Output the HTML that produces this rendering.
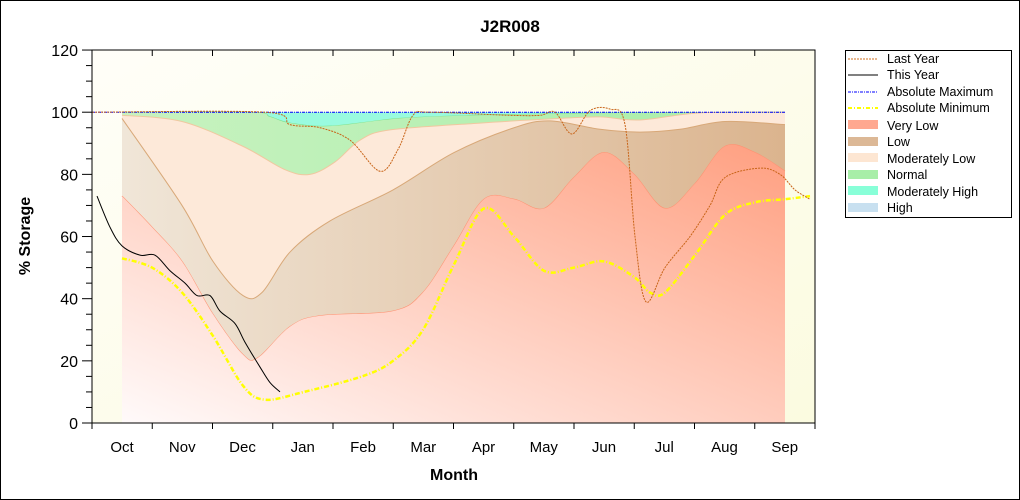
<!DOCTYPE html>
<html><head><meta charset="utf-8"><style>
html,body{margin:0;padding:0;background:#fff}
svg{display:block;font-family:"Liberation Sans",sans-serif}
</style></head><body>
<svg id="s" width="1020" height="500" xmlns="http://www.w3.org/2000/svg">
<defs>
<linearGradient id="vl" x1="0" y1="1" x2="1" y2="0"><stop offset="0" stop-color="#fffafa"/><stop offset="1" stop-color="#ff9f80"/></linearGradient>
<linearGradient id="bg" x1="0" y1="0" x2="1" y2="1"><stop offset="0" stop-color="#fffef8"/><stop offset="1" stop-color="#fbfbe0"/></linearGradient>
<linearGradient id="lo" x1="0" y1="0" x2="1" y2="0"><stop offset="0" stop-color="#f0e6d8"/><stop offset="1" stop-color="#dbb48e"/></linearGradient>
<linearGradient id="nm" x1="0" y1="0" x2="1" y2="0"><stop offset="0" stop-color="#c8f2c0"/><stop offset="1" stop-color="#a8eea8"/></linearGradient>
</defs>
<rect x="0.5" y="0.5" width="1019" height="499" fill="#fff" stroke="#000"/>
<text x="510" y="32" text-anchor="middle" font-size="17" font-weight="bold">J2R008</text>
<rect x="92" y="50" width="723" height="373" fill="url(#bg)"/>
<g id="bands"></g>
<g id="lines"></g>
<g id="axes" stroke="#000" fill="none"></g>
<g id="lab" font-size="15"></g>
<text x="454" y="480" text-anchor="middle" font-size="16" font-weight="bold">Month</text>
<text transform="translate(30,236) rotate(-90)" text-anchor="middle" font-size="16" font-weight="bold">% Storage</text>
<rect x="845.5" y="50.5" width="166" height="167" fill="#fff" stroke="#000"/>
<g font-size="12.5" fill="#000">
<line x1="848" y1="59" x2="878" y2="59" stroke="#d07020" stroke-dasharray="2,1"/><text x="887" y="63">Last Year</text>
<line x1="848" y1="75" x2="878" y2="75" stroke="#000"/><text x="887" y="79">This Year</text>
<line x1="848" y1="92" x2="878" y2="92" stroke="#0000ff" stroke-dasharray="3,1,1,1"/><text x="887" y="96">Absolute Maximum</text>
<line x1="848" y1="108" x2="878" y2="108" stroke="#ffff00" stroke-width="2" stroke-dasharray="4,2,1,2"/><text x="887" y="112">Absolute Minimum</text>
<rect x="848" y="120" width="30" height="9" fill="#ffa890"/><text x="887" y="130">Very Low</text>
<rect x="848" y="137" width="30" height="9" fill="#dcb896"/><text x="887" y="146">Low</text>
<rect x="848" y="153" width="30" height="9" fill="#fde6d2"/><text x="887" y="163">Moderately Low</text>
<rect x="848" y="170" width="30" height="9" fill="#a8eea8"/><text x="887" y="179">Normal</text>
<rect x="848" y="186" width="30" height="9" fill="#88ffd8"/><text x="887" y="196">Moderately High</text>
<rect x="848" y="203" width="30" height="9" fill="#c8e0f0"/><text x="887" y="212">High</text>
</g>
</svg>
<script>
(function(){
var Y=function(v){return 423-v*3.108};
function path(pts){var p=pts.map(function(a){return [a[0],Y(a[1])]});var d="M"+p[0][0]+","+p[0][1];
for(var i=0;i<p.length-1;i++){var p0=p[i-1]||p[i],p1=p[i],p2=p[i+1],p3=p[i+2]||p2;
d+=" C"+(p1[0]+(p2[0]-p0[0])/6)+","+(p1[1]+(p2[1]-p0[1])/6)+" "+(p2[0]-(p3[0]-p1[0])/6)+","+(p2[1]-(p3[1]-p1[1])/6)+" "+p2[0]+","+p2[1];}return d;}
function rev(a){return a.slice().reverse();}
function band(t,b,fill,stroke){var d=path(t)+" L"+path(rev(b)).slice(1)+" Z";
return '<path d="'+d+'" fill="'+fill+'"/>'+(stroke?'<path d="'+path(b)+'" fill="none" stroke="'+stroke+'" stroke-width="1"/>':'');}
var tp=[[122,100],[785,100]];
var mh=[[122,100],[250,100],[270,98.5],[290,96.5],[330,95.5],[400,98],[480,99],[560,99.5],[640,99.8],[785,100]];
var nm=[[122,99],[182,97],[243,89],[285,81.5],[310,80],[335,84],[360,91],[390,94.3],[480,96.5],[560,98],[600,98.5],[640,97.5],[700,99.8],[785,100]];
var ml=[[122,98],[182,70],[213,52],[243,41],[262,42],[290,55],[330,65],[393,75],[454,87],[514,95],[550,97.2],[600,94.5],[640,93.6],[680,94.5],[725,97],[785,96]];
var lo=[[122,73],[152,63],[182,52],[213,35],[243,22],[258,21],[290,31],[320,34.5],[393,36],[423,42],[454,57],[484,72],[514,72],[544,69],[574,79],[604,87],[634,80],[665,69],[695,77],[725,89],[755,87],[785,81]];
var bt=[[122,0],[785,0]];
document.getElementById('bands').innerHTML=
'<rect x="122" y="'+Y(100)+'" width="663" height="'+(Y(0)-Y(100))+'" fill="#fde9d9"/>'+
band(tp,mh,"#99fbdf","#7ee08a")+band(mh,nm,"url(#nm)","#f0c8a0")+band(ml,lo,"url(#lo)","#ff9070")+
band(lo,bt,"url(#vl)",null)+'<path d="'+path(ml)+'" fill="none" stroke="#d8a878"/>';
var amin=[[122,53],[152,50],[182,42],[213,28],[243,12],[265,7.5],[304,10],[362,15],[393,20],[423,30],[454,51],[484,69],[514,60],[544,49],[574,50],[604,52],[634,47],[650,42],[665,42],[695,54],[725,67],[755,71],[785,72],[810,73]];
var ly=[[92,100],[265,100],[290,96],[320,95],[350,91],[380,81],[398,88],[413,99],[430,100],[510,99],[540,99],[555,100],[572,93],[590,100.5],[610,101],[625,96],[635,60],[646,39],[665,50],[690,60],[710,70],[725,79],[760,82],[780,80],[795,75],[810,72]];
var ty=[[97,73],[110,63],[122,57],[140,54],[155,54],[170,49],[185,45],[197,41],[210,41],[220,36],[235,32],[245,26],[260,18],[270,13],[280,10]];
document.getElementById('lines').innerHTML=
'<line x1="92" x2="785" y1="'+Y(100)+'" y2="'+Y(100)+'" stroke="#0000ff" stroke-dasharray="3,1,1,1"/>'+
'<path d="'+path(amin)+'" fill="none" stroke="#ffff00" stroke-width="2.5" stroke-dasharray="5,2,1,2"/>'+
'<path d="'+path(ly)+'" fill="none" stroke="#c86418" stroke-dasharray="2,1"/>'+
'<path d="'+path(ty)+'" fill="none" stroke="#000"/>';
var a='<rect x="92" y="50" width="723" height="373"/>';
for(var i=0;i<=12;i++){var x=92+i*60.25;a+='<line x1="'+x+'" x2="'+x+'" y1="423" y2="429"/><line x1="'+x+'" x2="'+x+'" y1="50" y2="56"/>';}
for(var v=0;v<=120;v+=5){var y=Y(v);a+='<line x1="'+(92-(v%20==0?10:6))+'" x2="92" y1="'+y+'" y2="'+y+'"/>';}
document.getElementById('axes').innerHTML=a;
var t='',m=['Oct','Nov','Dec','Jan','Feb','Mar','Apr','May','Jun','Jul','Aug','Sep'];
m.forEach(function(s,i){t+='<text x="'+(122+i*60.25)+'" y="452" text-anchor="middle">'+s+'</text>';});
for(var v2=0;v2<=120;v2+=20)t+='<text x="78" y="'+(Y(v2)+6)+'" text-anchor="end" font-size="16">'+v2+'</text>';
document.getElementById('lab').innerHTML=t;
})();
</script>
</body></html>
